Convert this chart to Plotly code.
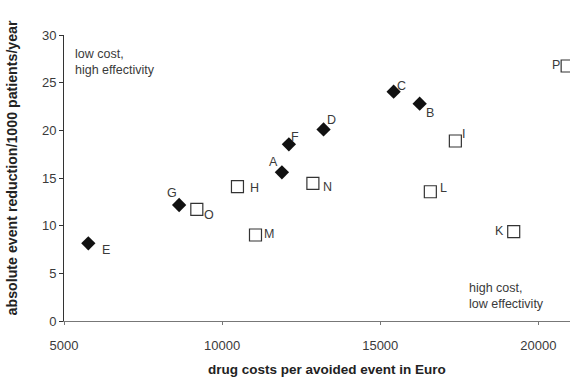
import plotly.graph_objects as go

# Data
labels_d = ["A", "B", "C", "D", "E", "F", "G"]
cost_d = [11890, 16246, 15423, 13207, 5769, 12111, 8640]
eff_d = [15.6, 22.8, 24.05, 20.1, 8.15, 18.53, 12.17]

labels_s = ["H", "I", "K", "L", "M", "N", "O", "P"]
cost_s = [10485, 17375, 19220, 16584, 11055, 12870, 9200, 20910]
eff_s = [14.09, 18.88, 9.37, 13.56, 9.02, 14.44, 11.7, 26.75]

x_ticks = [5000, 10000, 15000, 20000]
y_ticks = [0, 5, 10, 15, 20, 25, 30]

# label offsets in pixels (dx, dy) – style only
off = {
    "A": (-8, 10), "B": (10, -9), "C": (8, 6), "D": (8, 9), "E": (18, -7),
    "F": (6, 7), "G": (-7, 12), "H": (17, -1), "I": (8, 7), "K": (-14, 1),
    "L": (13, 4), "M": (14, 1), "N": (15, -4), "O": (12, -6), "P": (-11, 1),
}

FONT = "Liberation Sans, Arial, sans-serif"
TXT = "#3a3a3a"
fig = go.Figure()
fig.add_trace(go.Scatter(
    x=cost_d, y=eff_d, mode="markers",
    marker=dict(symbol="diamond", size=11, color="#111111", line=dict(width=0)),
    showlegend=False, hoverinfo="skip"))
fig.add_trace(go.Scatter(
    x=cost_s, y=eff_s, mode="markers",
    marker=dict(symbol="square-open", size=12, color="#333333", line=dict(width=1.2)),
    showlegend=False, hoverinfo="skip"))

ann = []
for lab, xv, yv in list(zip(labels_d, cost_d, eff_d)) + list(zip(labels_s, cost_s, eff_s)):
    dx, dy = off[lab]
    ann.append(dict(x=xv, y=yv, text=lab, showarrow=False, xshift=dx, yshift=dy,
                    font=dict(family=FONT, size=12.5, color=TXT)))

ann.append(dict(xref="paper", yref="paper", x=0.017, y=0.965, xanchor="left", yanchor="top",
                text="low cost,<br>high effectivity", showarrow=False, align="left",
                font=dict(family=FONT, size=12.5, color=TXT)))
ann.append(dict(xref="paper", yref="paper", x=0.796, y=0.148, xanchor="left", yanchor="top",
                text="high cost,<br>low effectivity", showarrow=False, align="left",
                font=dict(family=FONT, size=12.5, color=TXT)))
ann.append(dict(xref="paper", yref="paper", x=0.52, y=-0.168, xanchor="center", yanchor="middle",
                text="<b>drug costs per avoided event in Euro</b>", showarrow=False,
                font=dict(family=FONT, size=13.5, color="#222222")))
ann.append(dict(xref="paper", yref="paper", x=-0.102, y=0.535, xanchor="center", yanchor="middle",
                text="<b>absolute event reduction/1000 patients/year</b>", showarrow=False,
                textangle=-90, font=dict(family=FONT, size=14.2, color="#222222")))

fig.update_layout(
    width=584, height=382,
    margin=dict(l=64, r=14, t=35, b=61),
    paper_bgcolor="white", plot_bgcolor="white",
    font=dict(family=FONT, size=13, color=TXT),
    annotations=ann,
    xaxis=dict(range=[5000, 21000], tickvals=x_ticks, ticktext=[str(v) for v in x_ticks],
               showline=True, linecolor="#777777", linewidth=1, ticks="outside",
               ticklen=3, tickcolor="#777777", showgrid=False, zeroline=False,
               tickfont=dict(size=13, color=TXT), ticklabelstandoff=9),
    yaxis=dict(range=[0, 30], tickvals=y_ticks, showline=True, linecolor="#333333",
               linewidth=1, ticks="outside", ticklen=4, tickcolor="#333333",
               showgrid=False, zeroline=False, tickfont=dict(size=13, color=TXT)),
)
fig.write_html("out.html", config={"displayModeBar": False},
               post_script="document.body.style.margin='0';document.body.style.overflow='hidden';")
